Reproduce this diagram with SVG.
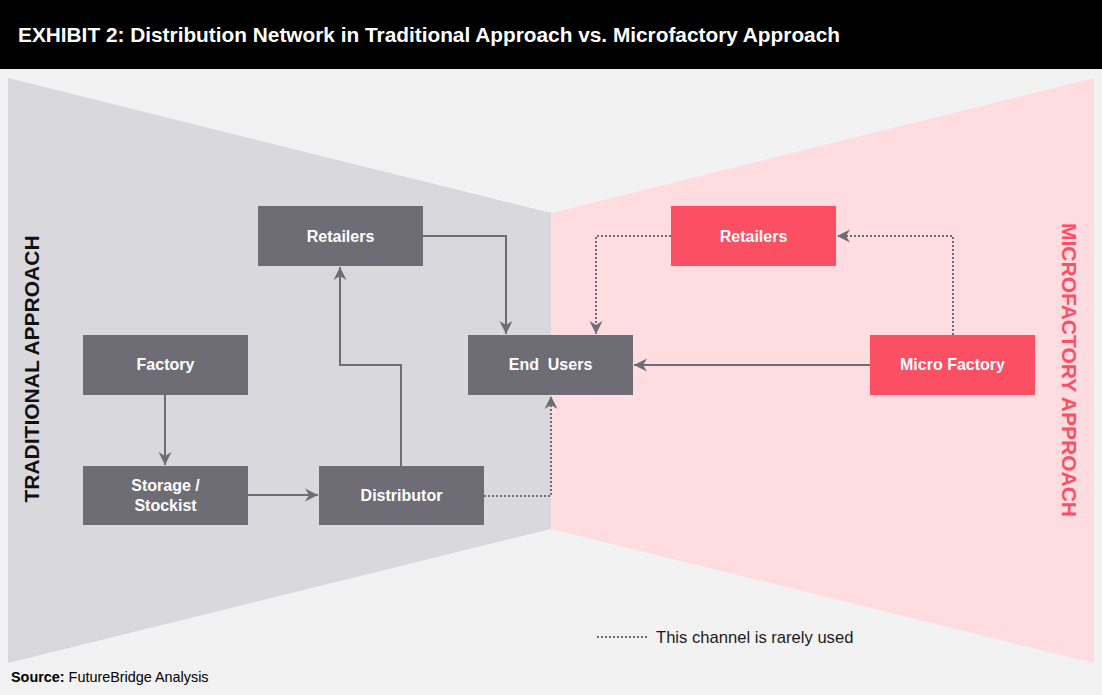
<svg xmlns="http://www.w3.org/2000/svg" width="1102" height="695" viewBox="0 0 1102 695">
<style>
  text { font-family: 'Liberation Sans', Arial, Helvetica, sans-serif; }
  .gbox { fill: #6e6d75; }
  .pbox { fill: #fb5063; }
  .lbl { fill: #ffffff; font-size: 16px; font-weight: bold; text-anchor: middle; white-space: pre; }
  .conn { fill: none; stroke: #6e6d75; stroke-width: 2; }
  .dot { fill: none; stroke: #6e6d75; stroke-width: 2; stroke-dasharray: 2 2; }
</style>
<defs>
  <marker id="arr" markerUnits="userSpaceOnUse" markerWidth="14" markerHeight="14" viewBox="0 0 14 14" refX="13" refY="7" orient="auto">
    <path d="M0,0.5 L13,7 L0,13.5 L4,7 z" fill="#6e6d75"/>
  </marker>
</defs>
<rect x="0" y="0" width="1102" height="695" fill="#f2f2f2"/>
<rect x="0" y="0" width="1102" height="69" fill="#000000"/>
<text x="18" y="42" font-family="Liberation Sans, Arial, sans-serif" fill="#ffffff" font-size="20" font-weight="bold" textLength="822" lengthAdjust="spacingAndGlyphs">EXHIBIT 2: Distribution Network in Traditional Approach vs. Microfactory Approach</text>
<polygon points="8,78 551,213 551,529 8,663" fill="#d9d8dd"/>
<polygon points="551,213 1094,78 1094,663 551,529" fill="#ffdce0"/>
<text transform="translate(39,369) rotate(-90)" font-family="Liberation Sans, Arial, sans-serif" fill="#111111" font-size="21" font-weight="bold" text-anchor="middle">TRADITIONAL APPROACH</text>
<text transform="translate(1062,370) rotate(90)" font-family="Liberation Sans, Arial, sans-serif" fill="#fb5063" font-size="21" font-weight="bold" text-anchor="middle">MICROFACTORY APPROACH</text>
<g id="connectors">
  <path class="conn" d="M165,395 V465" marker-end="url(#arr)"/>
  <path class="conn" d="M248,495 H318" marker-end="url(#arr)"/>
  <path class="conn" d="M401,466 V365 H340 V267" marker-end="url(#arr)"/>
  <path class="conn" d="M423,236 H506 V334" marker-end="url(#arr)"/>
  <path class="dot" d="M484,496 H551 V396" marker-end="url(#arr)"/>
  <path class="conn" d="M870,365 H634" marker-end="url(#arr)"/>
  <path class="dot" d="M953,335 V236 H837" marker-end="url(#arr)"/>
  <path class="dot" d="M671,236 H596 V334" marker-end="url(#arr)"/>
</g>
<g id="node-retailers-trad"><rect class="gbox" x="258" y="206" width="165" height="60"/><text class="lbl" x="340.5" y="242">Retailers</text></g>
<g id="node-factory"><rect class="gbox" x="83" y="335" width="165" height="60"/><text class="lbl" x="165.5" y="370">Factory</text></g>
<g id="node-storage"><rect class="gbox" x="83" y="466" width="165" height="59"/><text class="lbl" x="165.5" y="491">Storage /</text><text class="lbl" x="165.5" y="511">Stockist</text></g>
<g id="node-distributor"><rect class="gbox" x="319" y="466" width="165" height="59"/><text class="lbl" x="401.5" y="501">Distributor</text></g>
<g id="node-endusers"><rect class="gbox" x="468" y="335" width="165" height="60"/><text class="lbl" x="550.5" y="370">End  Users</text></g>
<g id="node-retailers-micro"><rect class="pbox" x="671" y="206" width="165" height="60"/><text class="lbl" x="753.5" y="242">Retailers</text></g>
<g id="node-microfactory"><rect class="pbox" x="870" y="335" width="165" height="60"/><text class="lbl" x="952.5" y="370">Micro Factory</text></g>
<g id="legend">
  <path class="dot" d="M597,637 H647"/>
  <text x="656" y="643" fill="#1a1a1a" font-size="16.6">This channel is rarely used</text>
</g>
<text x="11" y="682" fill="#000000" font-size="14.4"><tspan font-weight="bold">Source:</tspan> FutureBridge Analysis</text>
</svg>
